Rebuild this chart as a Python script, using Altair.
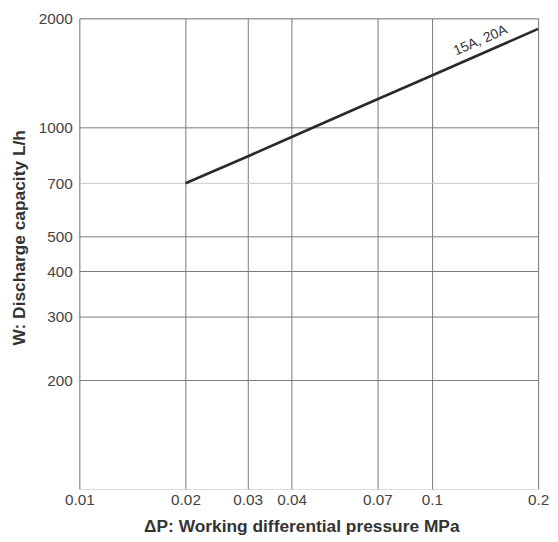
import altair as alt
import pandas as pd

# Data
pressure = [0.02, 0.03, 0.04, 0.07, 0.1, 0.2]
capacity = [700, 830, 940, 1195, 1390, 1870]

x_ticks = [0.01, 0.02, 0.03, 0.04, 0.07, 0.1, 0.2]
y_ticks = [200, 300, 400, 500, 700, 1000, 2000]

label_text = ["15A, 20A"]
label_x = [0.142]
label_y = [1610]

df = pd.DataFrame({"dp": pressure, "w": capacity})
lab = pd.DataFrame({"dp": label_x, "w": label_y, "t": label_text})

FONT = "Liberation Sans"

xscale = alt.Scale(type="log", domain=[0.01, 0.2], nice=False)
yscale = alt.Scale(type="log", domain=[100, 2000], nice=False)

xaxis = alt.Axis(
    values=x_ticks,
    format="~g",
    title="ΔP: Working differential pressure MPa",
    grid=True,
    gridColor="#7a7a7a",
    gridWidth=1,
    ticks=False,
    domain=False,
    labelFont=FONT,
    labelFontSize=15.5,
    labelColor="#444",
    labelPadding=4,
    labelFlush=False,
    titleFont=FONT,
    titleFontSize=17.5,
    titleFontWeight="bold",
    titleColor="#333",
    titlePadding=9,
    titleX=224,
)

yaxis = alt.Axis(
    values=y_ticks,
    format="d",
    title="W: Discharge capacity L/h",
    grid=True,
    gridColor={"condition": {"test": "datum.value == 700", "value": "#c8c8c8"}, "value": "#7a7a7a"},
    gridWidth=1,
    ticks=False,
    domain=False,
    labelFont=FONT,
    labelFontSize=15.5,
    labelColor="#444",
    labelPadding=7,
    labelFlush=False,
    titleFont=FONT,
    titleFontSize=17.5,
    titleFontWeight="bold",
    titleColor="#333",
    titlePadding=10,
    titleY=221,
)

line = alt.Chart(df).mark_line(color="#2a2a2a", strokeWidth=2.6).encode(
    x=alt.X("dp:Q", scale=xscale, axis=xaxis),
    y=alt.Y("w:Q", scale=yscale, axis=yaxis),
)

text = alt.Chart(lab).mark_text(
    angle=336.5, font=FONT, fontSize=14, color="#333", dy=-6, align="center", baseline="bottom"
).encode(
    x=alt.X("dp:Q", scale=xscale),
    y=alt.Y("w:Q", scale=yscale),
    text="t:N",
)

chart = alt.layer(line, text).properties(
    width=463,
    height=475,
    autosize=alt.AutoSizeParams(type="none"),
    padding={"left": 72, "top": 8, "right": 12, "bottom": 45},
).configure_view(stroke="#888", strokeWidth=1.2).configure(background="white")

chart.save("out.html", embed_options={"renderer": "svg", "actions": False})
